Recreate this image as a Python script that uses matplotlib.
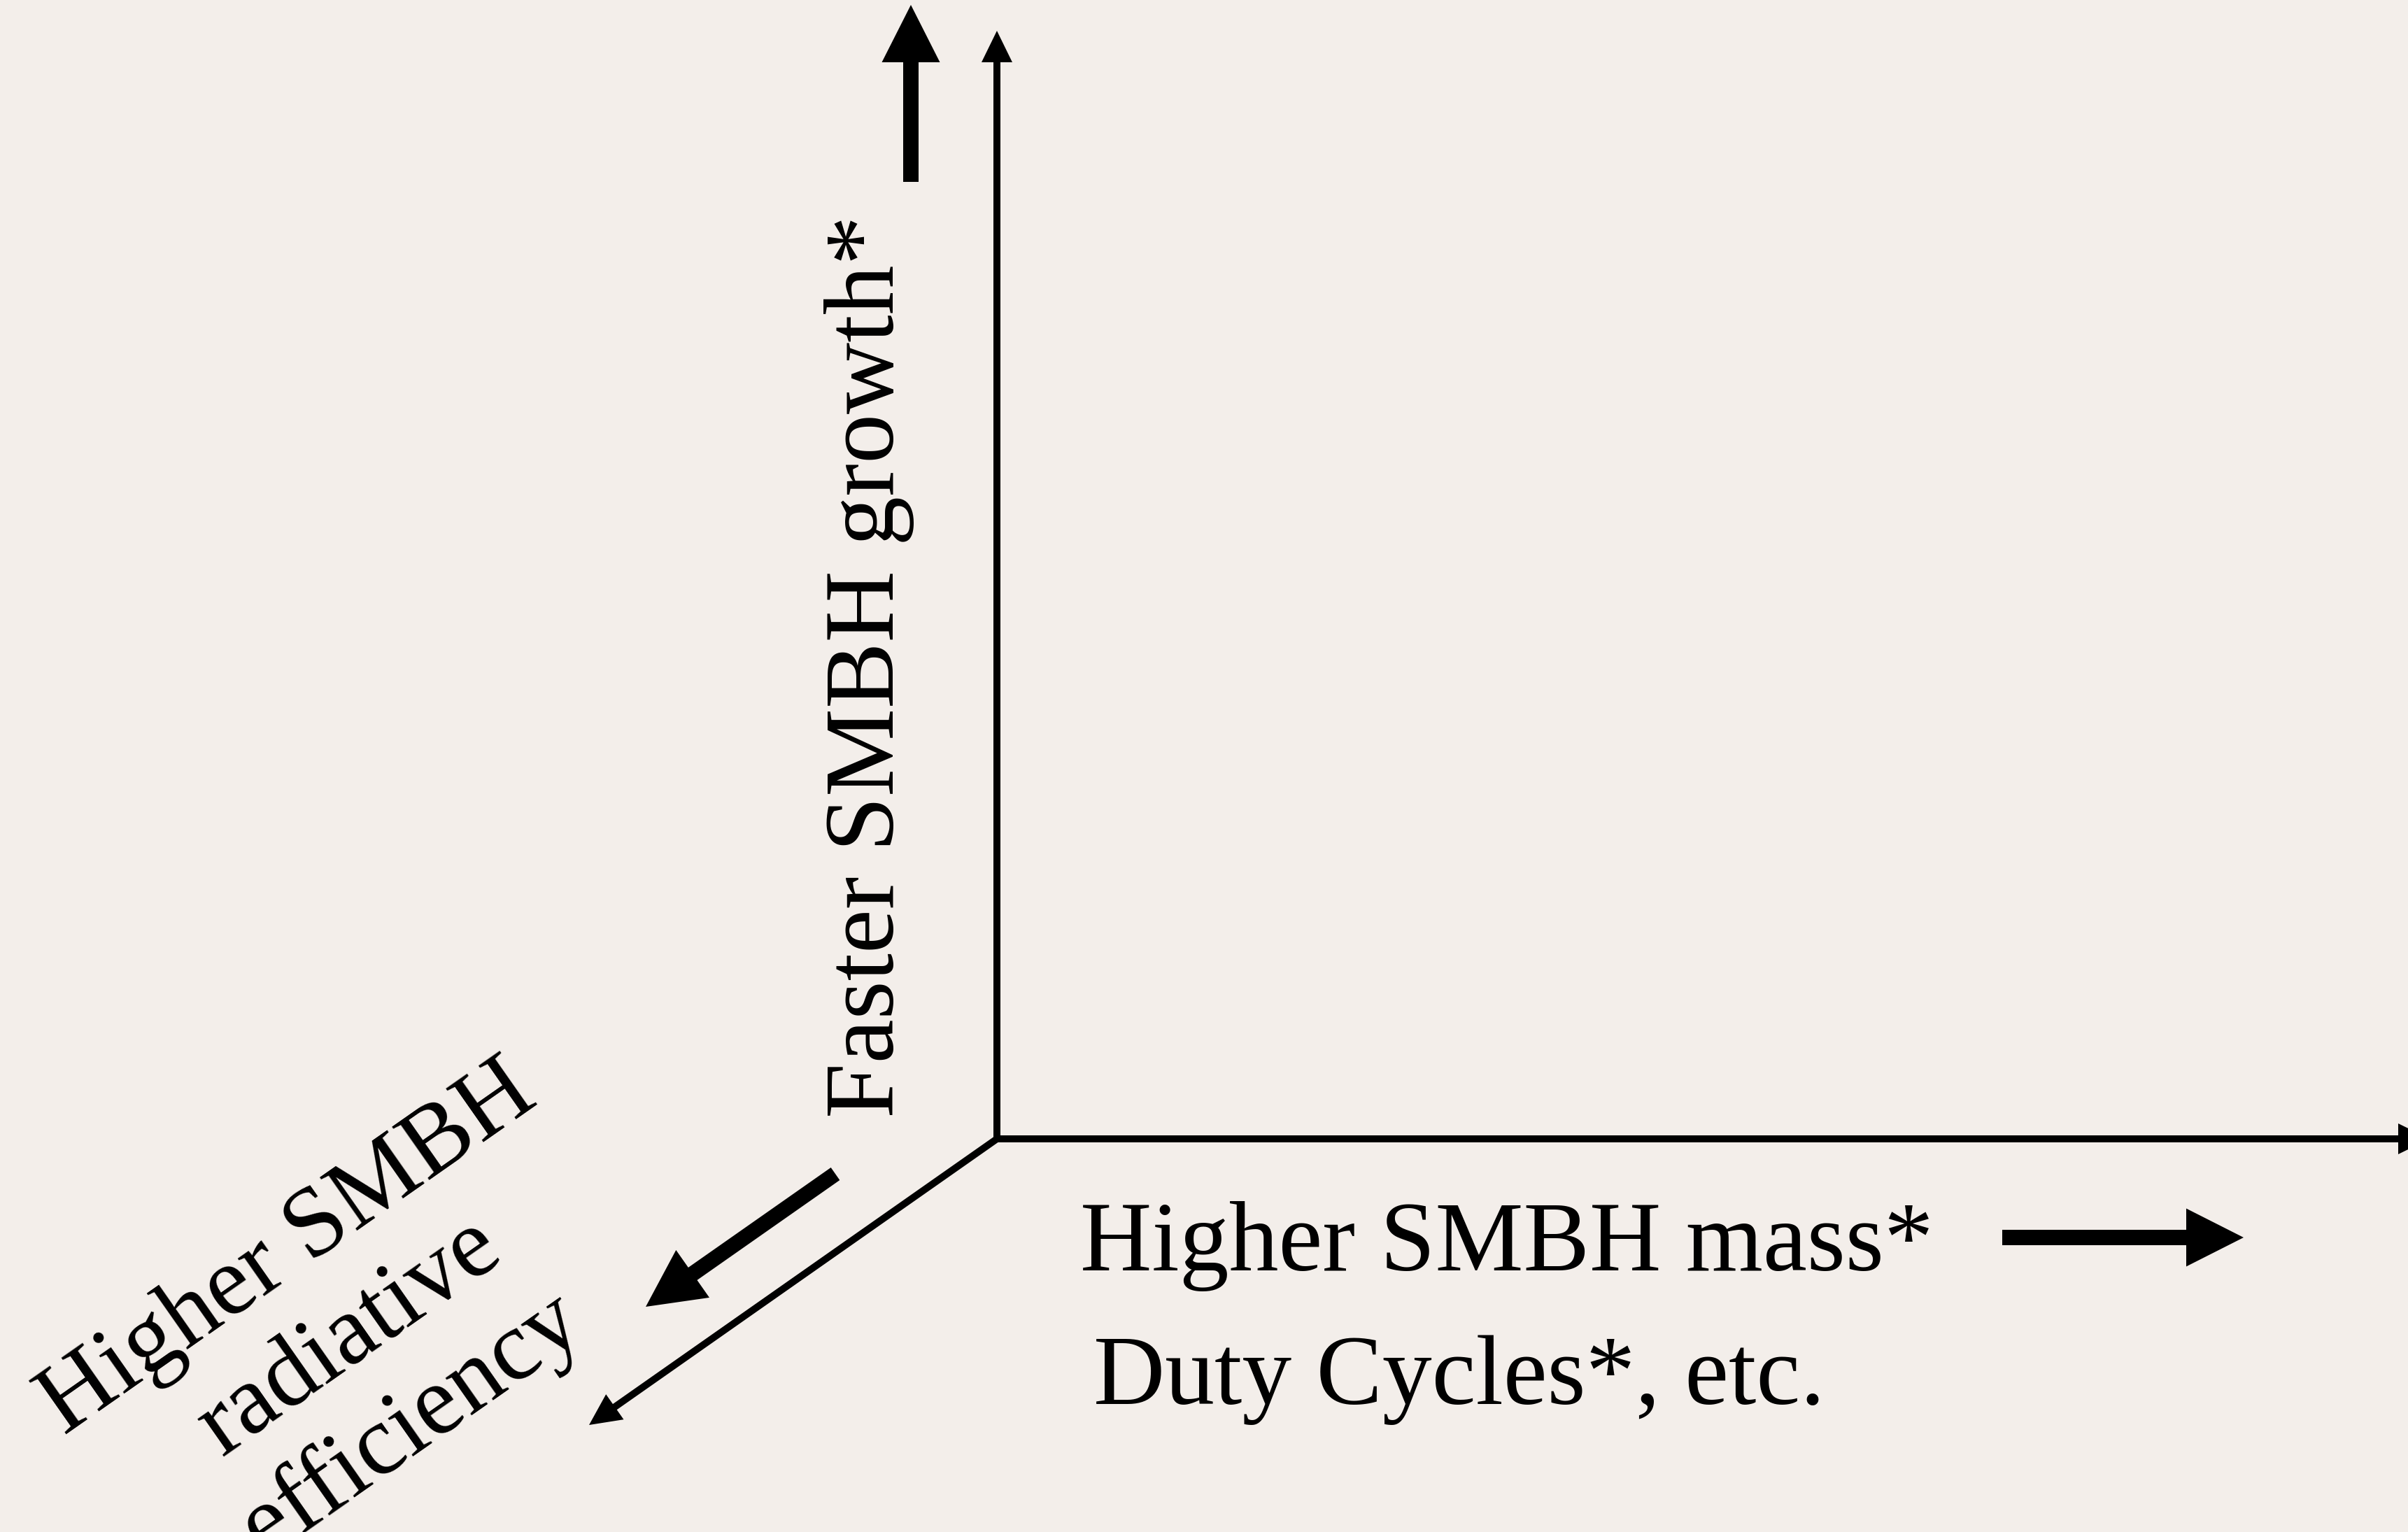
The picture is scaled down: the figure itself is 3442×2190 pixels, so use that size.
import matplotlib.pyplot as plt
import matplotlib as mpl

mpl.rcParams["font.family"] = ["Liberation Serif", "DejaVu Serif"]

# canvas in pixels
W, H = 3442, 2190
bg = "#f3eeea"

# axes of the sketch (pixel coords, y down): start, tip, shaft width, head width, head length
axis_starts = [(1425, 1628), (1425, 1628), (1425, 1628)]
axis_tips = [(1425, 44), (3473, 1628), (842, 2037)]
axis_width = 10
axis_head = (44, 45)

# thick direction arrows next to the labels
big_starts = [(1302, 260), (2862, 1769), (1194, 1678)]
big_tips = [(1302, 7), (3207, 1769), (923, 1868)]
big_width = 22
big_head = (83, 82)

# labels
labels = ["Faster SMBH growth*", "Higher SMBH mass*", "Duty Cycles*, etc.",
          "Higher SMBH\nradiative\nefficiency"]
label_pos = [(1277, 1598), (1544, 1816), (1563, 2007), (500, 1912)]
label_rot = [90, 0, 0, 35]
fs = 102

fig = plt.figure(figsize=(W / 100, H / 100), dpi=100, facecolor=bg)
ax = fig.add_axes([0, 0, 1, 1])
ax.set_facecolor(bg)
ax.set_xlim(0, W)
ax.set_ylim(H, 0)
ax.axis("off")


def draw_arrow(start, tip, width, head):
    x0, y0 = start
    x1, y1 = tip
    ax.arrow(x0, y0, x1 - x0, y1 - y0, width=width, head_width=head[0],
             head_length=head[1], length_includes_head=True,
             fc="black", ec="none", clip_on=True)


for s, t in zip(axis_starts, axis_tips):
    draw_arrow(s, t, axis_width, axis_head)

for s, t in zip(big_starts, big_tips):
    draw_arrow(s, t, big_width, big_head)

# vertical label, reads bottom to top
ax.text(*label_pos[0], labels[0], rotation=label_rot[0], rotation_mode="anchor",
        ha="left", va="baseline", fontsize=fs)
ax.text(*label_pos[1], labels[1], ha="left", va="baseline", fontsize=fs)
ax.text(*label_pos[2], labels[2], ha="left", va="baseline", fontsize=fs)
ax.text(*label_pos[3], labels[3], rotation=label_rot[3], rotation_mode="anchor",
        ha="center", va="center", multialignment="center", linespacing=1.25,
        fontsize=fs)

fig.savefig("out.png", dpi=100, facecolor=bg)
